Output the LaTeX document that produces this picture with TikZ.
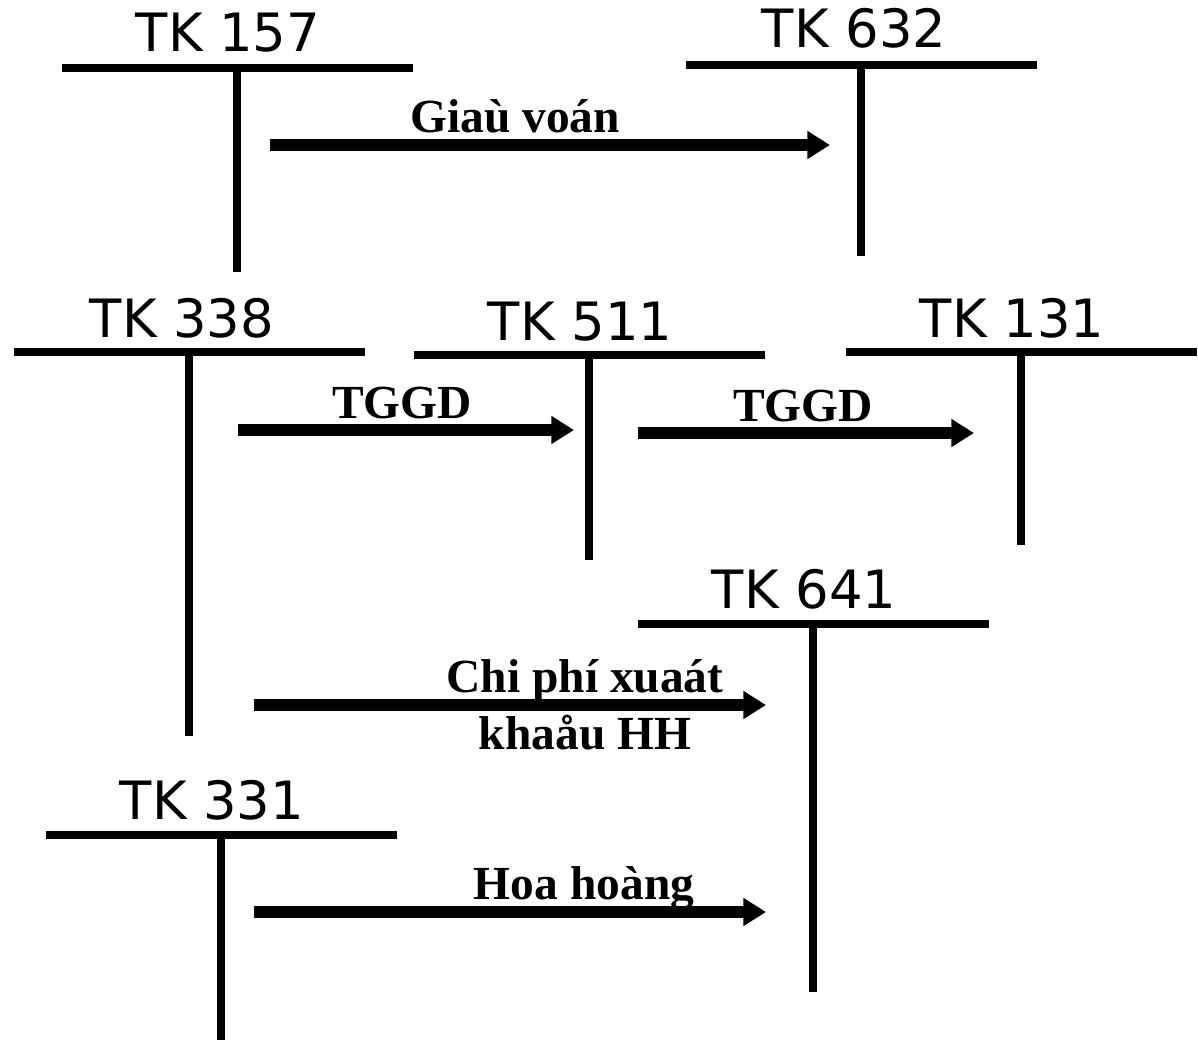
\documentclass[tikz,border=0pt]{standalone}
\usepackage{fontspec}
\usepackage{tikz}
\usetikzlibrary{arrows.meta}

\newfontfamily\tkfont{DejaVu Sans}
\newfontfamily\lblfont{Liberation Serif}

\tikzset{
    tline/.style={line width=6pt},
    flow/.style={line width=9pt, -{Triangle[length=17pt,width=20pt]}},
    tktitle/.style={anchor=base, inner sep=0pt, font=\tkfont\fontsize{39.6}{47}\selectfont},
    flowlbl/.style={anchor=base, inner sep=0pt, align=center, font=\lblfont\bfseries\fontsize{35.6}{43}\selectfont}
}

\begin{document}
\begin{tikzpicture}[x=0.75pt, y=-0.75pt]
        \useasboundingbox (0,0) rectangle (1198,1041);

        % T accounts
        \draw[tline] (62,68) -- (413,68);
        \draw[tline] (237,68) -- (237,272);
        \node[tktitle] (tk157) at (228,52) {TK 157};

        \draw[tline] (686,65) -- (1037,65);
        \draw[tline] (861,65) -- (861,256);
        \node[tktitle] (tk632) at (854,48) {TK 632};

        \draw[tline] (14,352) -- (365,352);
        \draw[tline] (189,352) -- (189,736);
        \node[tktitle] (tk338) at (182,337) {TK 338};

        \draw[tline] (414,355) -- (765,355);
        \draw[tline] (589,355) -- (589,560);
        \node[tktitle] (tk511) at (580,340) {TK 511};

        \draw[tline] (846,352) -- (1197,352);
        \draw[tline] (1021,352) -- (1021,545);
        \node[tktitle] (tk131) at (1012,337) {TK 131};

        \draw[tline] (638,624) -- (989,624);
        \draw[tline] (813,624) -- (813,992);
        \node[tktitle] (tk641) at (804,608) {TK 641};

        \draw[tline] (46,835) -- (397,835);
        \draw[tline] (221,835) -- (221,1040);
        \node[tktitle] (tk331) at (212,819) {TK 331};

        % flows
        \coordinate (giaFrom) at (270,145);
        \coordinate (giaTo) at (830,145);
        \draw[flow] (giaFrom) -- (giaTo);
        \node[flowlbl] (gia) at (515,133) {Giaù voán};

        \coordinate (tggdFromA) at (238,430);
        \coordinate (tggdToA) at (574,430);
        \draw[flow] (tggdFromA) -- (tggdToA);
        \node[flowlbl] (tggdA) at (402,418) {TGGD};

        \coordinate (tggdFromB) at (638,433);
        \coordinate (tggdToB) at (974,433);
        \draw[flow] (tggdFromB) -- (tggdToB);
        \node[flowlbl] (tggdB) at (803,421) {TGGD};

        \coordinate (cpFrom) at (254,705);
        \coordinate (cpTo) at (766,705);
        \draw[flow] (cpFrom) -- (cpTo);
        \node[flowlbl] (cpA) at (585,692) {Chi phí xuaát};
        \node[flowlbl] (cpB) at (585,749) {khaåu HH};

        \coordinate (hhFrom) at (254,912);
        \coordinate (hhTo) at (766,912);
        \draw[flow] (hhFrom) -- (hhTo);
        \node[flowlbl] (hh) at (584,899) {Hoa hoàng};
    \end{tikzpicture}
\end{document}
